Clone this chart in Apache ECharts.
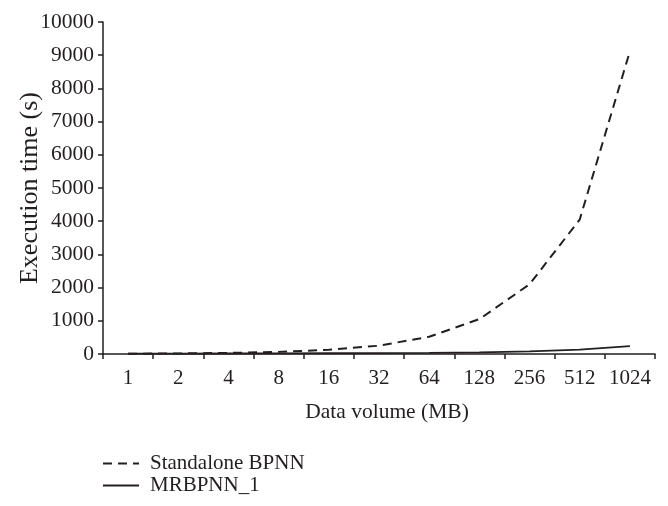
<!DOCTYPE html>
<html>
<head>
<meta charset="utf-8">
<script src="https://cdn.jsdelivr.net/npm/echarts@6/dist/echarts.min.js"></script>
<style>
html,body{margin:0;padding:0;background:#fff;}
#chart{width:668px;height:506px;}
</style>
</head>
<body>
<div id="chart"></div>
<script>
var categories = ['1', '2', '4', '8', '16', '32', '64', '128', '256', '512', '1024'];
var standaloneBPNN = [8, 16, 32, 64, 125, 250, 520, 1050, 2100, 4050, 9120];
var mrbpnn1 = [10, 12, 15, 18, 22, 28, 35, 50, 80, 130, 240];
var seriesNames = ['Standalone BPNN', 'MRBPNN_1'];

var FONT = 'Liberation Serif';
var TXT = '#231f20';
var chart = echarts.init(document.getElementById('chart'));
chart.setOption({
  animation: false,
  backgroundColor: '#fff',
  textStyle: {fontFamily: FONT, color: TXT},
  grid: {left: 103, right: 13, top: 22, bottom: 152, containLabel: false},
  legend: {
    orient: 'vertical', left: 97, top: 448, itemGap: 1,
    itemWidth: 36, itemHeight: 20,
    data: seriesNames,
    itemStyle: {opacity: 0},
    textStyle: {fontFamily: FONT, fontSize: 21, color: TXT, padding: [0, 0, 0, 6]}
  },
  xAxis: {
    type: 'category', data: categories, boundaryGap: true,
    name: 'Data volume (MB)', nameLocation: 'middle', nameGap: 47,
    nameMoveOverlap: false,
    nameTextStyle: {fontFamily: FONT, fontSize: 21.5, color: TXT, padding: [0, 0, 0, 16]},
    axisLine: {lineStyle: {color: '#231f20', width: 1.5}},
    axisTick: {show: true, length: 5, inside: false, alignWithLabel: false, lineStyle: {color: '#231f20', width: 1.5}},
    axisLabel: {fontFamily: FONT, fontSize: 21, color: TXT, margin: 14, interval: 0},
    splitLine: {show: false}
  },
  yAxis: {
    type: 'value', min: 0, max: 10000, interval: 1000,
    name: 'Execution time (s)', nameLocation: 'middle', nameGap: 60, nameRotate: 90,
    nameMoveOverlap: false,
    nameTextStyle: {fontFamily: FONT, fontSize: 26, color: TXT},
    axisLine: {show: true, lineStyle: {color: '#231f20', width: 1.5}},
    axisTick: {show: true, length: 5, lineStyle: {color: '#231f20', width: 1.5}},
    axisLabel: {fontFamily: FONT, fontSize: 21.5, color: TXT, margin: 9, formatter: function (v) { return String(v); }},
    splitLine: {show: false}
  },
  series: [
    {name: seriesNames[0], type: 'line', data: standaloneBPNN, symbol: 'none',
     lineStyle: {color: '#231f20', width: 2, type: [9, 6]}, itemStyle: {color: '#231f20'}},
    {name: seriesNames[1], type: 'line', data: mrbpnn1, symbol: 'none',
     lineStyle: {color: '#231f20', width: 1.8, type: 'solid'}, itemStyle: {color: '#231f20'}}
  ]
});
</script>
</body>
</html>
